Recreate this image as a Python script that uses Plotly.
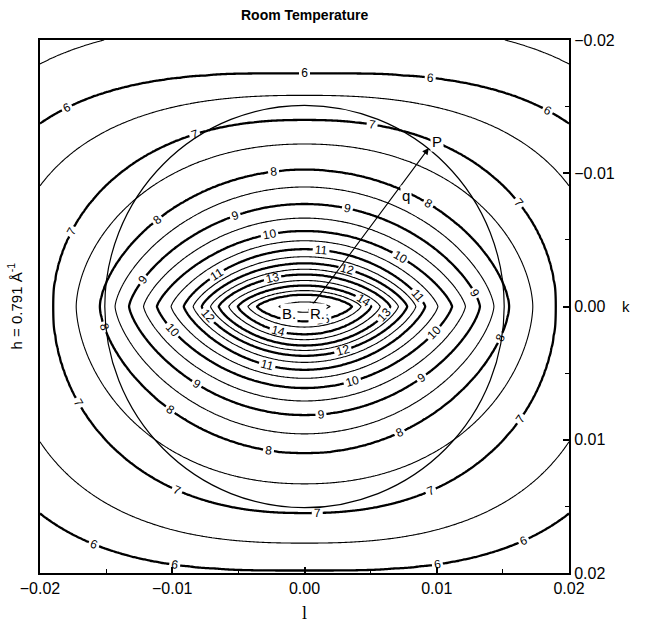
import numpy as np
import plotly.graph_objects as go

# ---- data ----
levels = [5, 6, 7, 8, 9, 10, 11, 12, 13, 14, 15]
# half-widths of each contour along l (x) and along k (up / down)
semi_l = [0.0317, 0.0260, 0.0190, 0.01546, 0.01327, 0.01116, 0.00912, 0.00777, 0.00649, 0.00505, 0.00362]
semi_k_up = [0.0249, 0.0175, 0.0140, 0.01026, 0.00769, 0.00566, 0.0043, 0.00324, 0.00241, 0.00158, 0.0009]
semi_k_down = [0.0271, 0.0198, 0.0155, 0.0110, 0.00814, 0.00611, 0.00475, 0.0037, 0.00294, 0.00211, 0.00113]
shape_l = [3, 3, 2.3, 2, 2, 2, 2, 2, 2, 2, 2]
shape_k = [3, 2.5, 2, 1.6, 1.4, 1.3, 1.3, 1.3, 1.3, 1.3, 1.3]
peak = 15.7

x_ticks = [-0.02, -0.01, 0.0, 0.01, 0.02]
x_ticktext = ["\u22120.02", "\u22120.01", "0.00", "0.01", "0.02"]
y_ticks = [-0.02, -0.01, 0.0, 0.01, 0.02]
y_ticktext = ["\u22120.02", "\u22120.01", "0.00", "0.01", "0.02"]

q_radius = 0.0151
point_P = (0.0094, -0.0119)
point_BR = (0.0002, 0.0004)

# ---- build grid from contour shapes ----
gx = np.linspace(-0.02, 0.02, 241)
gy = np.linspace(-0.02, 0.02, 241)
X, Y = np.meshgrid(gx, gy)
G = []
for a, bu, bd, q, p in zip(semi_l, semi_k_up, semi_k_down, shape_l, shape_k):
    b = np.where(Y < 0, bu, bd)
    G.append((np.abs(X) / a) ** q + (np.abs(Y) / b) ** p)
G = np.array(G)
nL = len(levels)
L = np.array(levels, dtype=float)
k = (G < 1).sum(axis=0)
logG = np.log(np.maximum(G, 1e-12))
Z = np.zeros_like(X)
outer = k == 0
inner = k == nL
mid = ~(outer | inner)
Z[outer] = L[0] - 2 * logG[0][outer]
Z[inner] = L[-1] + (peak - L[-1]) * (1 - G[-1][inner])
ii = np.clip(k - 1, 0, nL - 2)
li = np.take_along_axis(logG, ii[None], 0)[0]
lj = np.take_along_axis(logG, (ii + 1)[None], 0)[0]
Z[mid] = (L[ii] + (0 - li) / (lj - li))[mid]

black = [[0, "black"], [1, "black"]]
fig = go.Figure()
fig.add_trace(go.Contour(
    x=gx, y=gy, z=Z, autocontour=False,
    contours=dict(start=5.5, end=15.5, size=1, coloring="lines", showlabels=False),
    colorscale=black, showscale=False, line=dict(width=1.1), hoverinfo="skip"))
# labelled integer contours (the empty low levels only make plotly place more labels per line)
fig.add_trace(go.Contour(
    x=gx, y=gy, z=Z, autocontour=False,
    contours=dict(start=-90, end=15, size=1, coloring="lines", showlabels=True,
                  labelfont=dict(size=12, color="black", family="Liberation Sans"),
                  labelformat=".0f"),
    colorscale=black, showscale=False, line=dict(width=2.3), hoverinfo="skip"))

fig.add_shape(type="circle", xref="x", yref="y",
              x0=-q_radius, x1=q_radius, y0=-q_radius, y1=q_radius,
              line=dict(color="black", width=1.2))
fig.add_annotation(x=point_P[0], y=point_P[1], ax=point_BR[0], ay=point_BR[1],
                   xref="x", yref="y", axref="x", ayref="y", text="",
                   showarrow=True, arrowhead=2, arrowsize=1.2, arrowwidth=1.1, arrowcolor="black")

txtfont = dict(family="Liberation Sans", size=15, color="black")
for t, xx, yy in [("P", 0.0100, -0.0124), ("q", 0.0077, -0.0083), ("B.", -0.0012, 0.0005), ("R.", 0.0010, 0.0005)]:
    fig.add_annotation(x=xx, y=yy, xref="x", yref="y", text=t, showarrow=False,
                       font=txtfont, bgcolor="white")

fig.add_annotation(x=0.5, y=1.0, xref="paper", yref="paper", yshift=25, yanchor="middle",
                   text="<b>Room Temperature</b>",
                   showarrow=False, font=dict(family="Liberation Sans", size=14, color="black"))
fig.add_annotation(x=0.5, y=0, xref="paper", yref="paper", yshift=-40, yanchor="middle", text="l",
                   showarrow=False, font=dict(family="Liberation Serif", size=18, color="black"))
fig.add_annotation(x=1, y=0.5, xref="paper", yref="paper", xshift=63, text="k",
                   showarrow=False, font=dict(family="Liberation Sans", size=15, color="black"))
fig.add_annotation(x=0, y=0.5, xref="paper", yref="paper", xshift=-25, xanchor="center",
                   text="h = 0.791 \u00c5<sup>-1</sup>",
                   textangle=-90, showarrow=False, font=dict(family="Liberation Sans", size=15, color="black"))

axis_common = dict(showgrid=False, zeroline=False, showline=True, linecolor="black", linewidth=2,
                   mirror=True, ticks="inside", ticklen=6, tickwidth=1.5, tickcolor="black",
                   minor=dict(ticks="inside", ticklen=4, dtick=0.005, tickcolor="black", tickwidth=1.2),
                   tickfont=dict(family="Liberation Sans", size=16, color="black"))
fig.update_xaxes(range=[-0.02, 0.02], tickvals=x_ticks, ticktext=x_ticktext, **axis_common)
fig.update_yaxes(range=[0.02, -0.02], tickvals=y_ticks, ticktext=y_ticktext, side="right", **axis_common)

fig.update_layout(width=646, height=626, margin=dict(l=40, r=77, t=40, b=53),
                  plot_bgcolor="white", paper_bgcolor="white", showlegend=False)
fig.write_html("out.html")
